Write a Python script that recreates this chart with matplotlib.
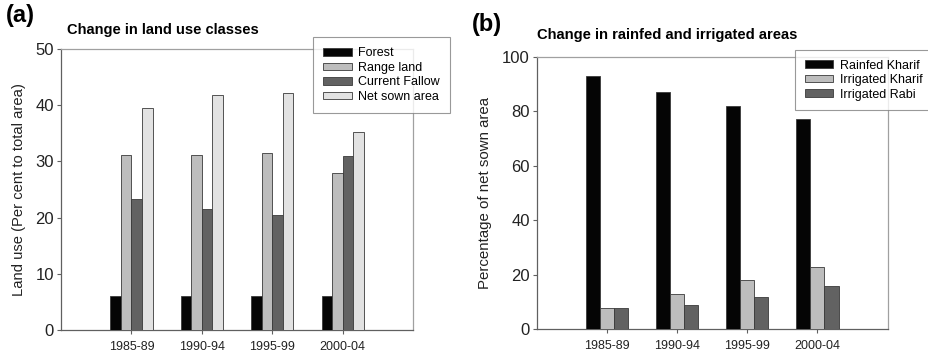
import matplotlib
matplotlib.use("Agg")
import matplotlib.pyplot as plt
import numpy as np

plt.rcParams['font.family'] = ['Liberation Sans', 'DejaVu Sans']

periods = ['1985-89', '1990-94', '1995-99', '2000-04']

# panel (a): land use classes, per cent of total area
forest = [6.0, 6.0, 6.0, 6.0]
range_land = [31.1, 31.1, 31.5, 28.0]
current_fallow = [23.3, 21.5, 20.5, 30.9]
net_sown = [39.5, 41.9, 42.2, 35.2]

# panel (b): percentage of net sown area
rainfed_kharif = [93, 87, 82, 77]
irrigated_kharif = [8, 13, 18, 23]
irrigated_rabi = [8, 9, 12, 16]

c_black = '#050505'
c_light = '#bdbdbd'
c_dark = '#626262'
c_vlight = '#e2e2e2'
edge = '#3a3a3a'

fig = plt.figure(figsize=(9.29, 3.53), dpi=100)


def style_axes(ax):
    for s in ['top', 'right']:
        ax.spines[s].set_color('#a0a0a0')
        ax.spines[s].set_linewidth(0.9)
    for s in ['left', 'bottom']:
        ax.spines[s].set_color('#606060')
        ax.spines[s].set_linewidth(0.9)
    ax.tick_params(axis='y', direction='out', length=3, width=0.8,
                   colors='#606060', labelcolor='#222222', labelsize=12, pad=2)
    ax.tick_params(axis='x', direction='out', length=3, width=0.8,
                   colors='#606060', labelcolor='#222222', labelsize=9, pad=5)
    ax.set_xlim(-1.0, 4.0)
    ax.set_xticks(np.arange(len(periods)))
    ax.set_xticklabels(periods)


legend_kw = dict(loc='upper left', bbox_transform=fig.transFigure, fontsize=9,
                 frameon=True, fancybox=False, edgecolor='#808080',
                 handlelength=2.3, handleheight=0.55, handletextpad=0.5,
                 labelspacing=0.2, borderaxespad=0)

x = np.arange(len(periods))

# ---- (a)
ax1 = fig.add_axes([0.0657, 0.0652, 0.379, 0.796])
w = 0.15
series_a = [(forest, c_black, 'Forest'),
            (range_land, c_light, 'Range land'),
            (current_fallow, c_dark, 'Current Fallow'),
            (net_sown, c_vlight, 'Net sown area')]
for i, (vals, col, lab) in enumerate(series_a):
    ax1.bar(x + (i - 1.5) * w, vals, w, color=col, edgecolor=edge,
            linewidth=0.6, label=lab, zorder=3)
ax1.set_ylim(0, 50)
ax1.set_yticks(range(0, 51, 10))
style_axes(ax1)
ax1.set_ylabel('Land use (Per cent to total area)', fontsize=10.6, labelpad=7, color='#222222')
leg1 = ax1.legend(bbox_to_anchor=(0.337, 0.894), borderpad=0.8, **legend_kw)
leg1.get_frame().set_linewidth(0.8)

fig.text(0.006, 0.955, '(a)', fontsize=17, fontweight='bold', va='center', ha='left')
fig.text(0.072, 0.915, 'Change in land use classes', fontsize=10.5, fontweight='bold',
         va='center', ha='left')

# ---- (b)
ax2 = fig.add_axes([0.5777, 0.0671, 0.3778, 0.772])
w = 0.2
series_b = [(rainfed_kharif, c_black, 'Rainfed Kharif'),
            (irrigated_kharif, c_light, 'Irrigated Kharif'),
            (irrigated_rabi, c_dark, 'Irrigated Rabi')]
for i, (vals, col, lab) in enumerate(series_b):
    ax2.bar(x + (i - 1) * w, vals, w, color=col, edgecolor=edge,
            linewidth=0.6, label=lab, zorder=3)
ax2.set_ylim(0, 100)
ax2.set_yticks(range(0, 101, 20))
style_axes(ax2)
ax2.set_ylabel('Percentage of net sown area', fontsize=10.8, labelpad=7, color='#222222')
leg2 = ax2.legend(bbox_to_anchor=(0.856, 0.858), borderpad=0.75, **legend_kw)
leg2.get_frame().set_linewidth(0.8)

fig.text(0.508, 0.93, '(b)', fontsize=17, fontweight='bold', va='center', ha='left')
fig.text(0.578, 0.9, 'Change in rainfed and irrigated areas', fontsize=10.6,
         fontweight='bold', va='center', ha='left')

fig.savefig('out.png', dpi=100)
